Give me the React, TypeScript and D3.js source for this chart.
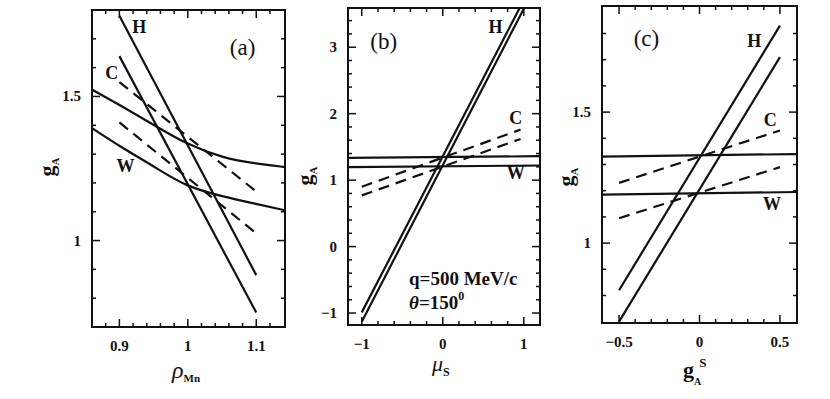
import React from 'react';
import * as d3 from 'd3';

const FONT = '"Liberation Serif", "DejaVu Serif", serif';

// ---- panel (a): g_A against rho_Mn ----
const rhoTicks = [0.9, 1, 1.1];
const rhoLabels = ['0.9', '1', '1.1'];
const gaTicksA = [1, 1.5];
const gaLabelsA = ['1', '1.5'];
const rhoStraight = [0.9, 1.1];
const gaHsolidA = [1.78, 0.88];
const gaCsolidA = [1.64, 0.75];
const gaDashUpA = [1.55, 1.17];
const gaDashLoA = [1.41, 1.025];
const rhoCurve = [0.857, 0.905, 0.955, 0.996, 1.051, 1.101, 1.142];
const gaCurveUpA = [1.528, 1.464, 1.395, 1.337, 1.286, 1.266, 1.255];
const gaCurveLoA = [1.395, 1.32, 1.251, 1.189, 1.152, 1.127, 1.105];

// ---- panel (b): g_A against mu_s ----
const muTicks = [-1, 0, 1];
const muLabels = ['\u22121', '0', '1'];
const gaTicksB = [-1, 0, 1, 2, 3];
const gaLabelsB = ['\u22121', '0', '1', '2', '3'];
const muH = [-1, 1];
const gaH1B = [-0.99, 3.71];
const gaH2B = [-1.13, 3.58];
const muFlat = [-1.17, 1.2];
const gaFlatUpB = [1.335, 1.36];
const gaFlatLoB = [1.195, 1.22];
const muDash = [-1, 0.96];
const gaDashUpB = [0.90, 1.76];
const gaDashLoB = [0.77, 1.62];

// ---- panel (c): g_A against g_A^s ----
const gsTicks = [-0.5, 0, 0.5];
const gsLabels = ['\u22120.5', '0', '0.5'];
const gaTicksC = [1, 1.5];
const gaLabelsC = ['1', '1.5'];
const gsLine = [-0.5, 0.5];
const gaH1C = [0.82, 1.83];
const gaH2C = [0.70, 1.71];
const gsFlat = [-0.61, 0.61];
const gaFlatUpC = [1.33, 1.34];
const gaFlatLoC = [1.185, 1.195];
const gaDashUpC = [1.23, 1.43];
const gaDashLoC = [1.095, 1.29];

type Series = { x: number[]; y: number[]; dashed?: boolean; curve?: boolean };
type Label = { text: string; x: number; y: number };

type PanelProps = {
  id: string;
  box: { left: number; right: number; top: number; bottom: number };
  xDomain: [number, number];
  yDomain: [number, number];
  xMajor: number[];
  xMajorLabels: string[];
  xMinor: number[];
  yMajor: number[];
  yMajorLabels: string[];
  yMinor: number[];
  series: Series[];
  letters: Label[]; // curve names, placed in data coords
  tag: Label; // (a), (b), (c)
};

const Panel = (p: PanelProps) => {
  const { left, right, top, bottom } = p.box;
  const x = d3.scaleLinear().domain(p.xDomain).range([left, right]);
  const y = d3.scaleLinear().domain(p.yDomain).range([bottom, top]);
  const major = 8;
  const minor = 4;
  const near = (v: number, a: number, b: number) => Math.abs(v - a) < 1.5 || Math.abs(v - b) < 1.5;

  const ticks: JSX.Element[] = [];
  p.xMinor.forEach((v, i) => {
    const px = x(v);
    if (near(px, left, right)) return;
    const len = p.xMajor.some(m => Math.abs(m - v) < 1e-6) ? major : minor;
    ticks.push(<line key={'xb' + i} x1={px} x2={px} y1={bottom} y2={bottom - len} />);
    ticks.push(<line key={'xt' + i} x1={px} x2={px} y1={top} y2={top + len} />);
  });
  p.yMinor.forEach((v, i) => {
    const py = y(v);
    if (near(py, top, bottom)) return;
    const len = p.yMajor.some(m => Math.abs(m - v) < 1e-6) ? major : minor;
    ticks.push(<line key={'yl' + i} x1={left} x2={left + len} y1={py} y2={py} />);
    ticks.push(<line key={'yr' + i} x1={right} x2={right - len} y1={py} y2={py} />);
  });

  const path = (s: Series) => {
    const pts = s.x.map((v, i) => [x(v), y(s.y[i])] as [number, number]);
    const gen = d3.line<[number, number]>().x(d => d[0]).y(d => d[1]);
    if (s.curve) gen.curve(d3.curveBasis);
    return gen(pts) || '';
  };

  return (
    <g>
      <defs>
        <clipPath id={'clip-' + p.id}>
          <rect x={left} y={top} width={right - left} height={bottom - top} />
        </clipPath>
      </defs>
      <g clipPath={`url(#clip-${p.id})`} fill="none" stroke="#111" strokeWidth={2.2}>
        {p.series.map((s, i) => (
          <path key={i} d={path(s)} strokeDasharray={s.dashed ? '11,7' : undefined} />
        ))}
      </g>
      <g stroke="#111" strokeWidth={1.5}>{ticks}</g>
      <rect x={left} y={top} width={right - left} height={bottom - top} fill="none" stroke="#111" strokeWidth={2} />
      <g fontFamily={FONT} fontWeight="bold" fontSize={15} fill="#111">
        {p.xMajor.map((v, i) => (
          <text key={'xl' + i} x={x(v)} y={bottom + 24} textAnchor="middle">{p.xMajorLabels[i]}</text>
        ))}
        {p.yMajor.map((v, i) => (
          <text key={'yl' + i} x={left - 11} y={y(v) + 5} textAnchor="end">{p.yMajorLabels[i]}</text>
        ))}
      </g>
      <g fontFamily={FONT} fontWeight="bold" fontSize={18} fill="#111">
        {p.letters.map((l, i) => (
          <text key={i} x={x(l.x)} y={y(l.y)} textAnchor="middle" dominantBaseline="central">{l.text}</text>
        ))}
      </g>
      <text x={x(p.tag.x)} y={y(p.tag.y)} fontFamily={FONT} fontSize={23} fill="#111" textAnchor="middle" dominantBaseline="central">{p.tag.text}</text>
    </g>
  );
};

const YTitle = ({ cx, cy }: { cx: number; cy: number }) => (
  <text transform={`translate(${cx},${cy}) rotate(-90)`} fontFamily={FONT} fontWeight="bold" fill="#111" textAnchor="middle">
    <tspan fontSize={22}>g</tspan>
    <tspan fontSize={11} dy={5}>A</tspan>
  </text>
);

const App = () => {
  return (
    <svg width={830} height={399} style={{ position: 'absolute', left: 0, top: 0, background: '#fff' }}>
      <Panel
        id="a"
        box={{ left: 92, right: 285, top: 10, bottom: 327 }}
        xDomain={[0.86, 1.142]}
        yDomain={[0.7, 1.8]}
        xMajor={rhoTicks}
        xMajorLabels={rhoLabels}
        xMinor={d3.range(43, 58).map(i => i / 50)}
        yMajor={gaTicksA}
        yMajorLabels={gaLabelsA}
        yMinor={d3.range(7, 19).map(i => i / 10)}
        series={[
          { x: rhoStraight, y: gaHsolidA },
          { x: rhoStraight, y: gaCsolidA },
          { x: rhoStraight, y: gaDashUpA, dashed: true },
          { x: rhoStraight, y: gaDashLoA, dashed: true },
          { x: rhoCurve, y: gaCurveUpA, curve: true },
          { x: rhoCurve, y: gaCurveLoA, curve: true },
        ]}
        letters={[
          { text: 'H', x: 0.929, y: 1.74 },
          { text: 'C', x: 0.889, y: 1.58 },
          { text: 'W', x: 0.909, y: 1.26 },
        ]}
        tag={{ text: '(a)', x: 1.08, y: 1.67 }}
      />
      <Panel
        id="b"
        box={{ left: 348, right: 540, top: 8, bottom: 325 }}
        xDomain={[-1.17, 1.2]}
        yDomain={[-1.18, 3.59]}
        xMajor={muTicks}
        xMajorLabels={muLabels}
        xMinor={d3.range(-5, 7).map(i => i / 5)}
        yMajor={gaTicksB}
        yMajorLabels={gaLabelsB}
        yMinor={d3.range(-5, 18).map(i => i / 5)}
        series={[
          { x: muH, y: gaH1B },
          { x: muH, y: gaH2B },
          { x: muFlat, y: gaFlatUpB },
          { x: muFlat, y: gaFlatLoB },
          { x: muDash, y: gaDashUpB, dashed: true },
          { x: muDash, y: gaDashLoB, dashed: true },
        ]}
        letters={[
          { text: 'H', x: 0.65, y: 3.3 },
          { text: 'C', x: 0.9, y: 1.93 },
          { text: 'W', x: 0.9, y: 1.1 },
        ]}
        tag={{ text: '(b)', x: -0.73, y: 3.08 }}
      />
      <text fontFamily={FONT} fontWeight="bold" fontSize={19} fill="#111" x={409} y={285}>q=500 MeV/c</text>
      <text fontFamily={FONT} fontWeight="bold" fontSize={19} fill="#111" x={409} y={309}>
        <tspan fontStyle="italic">θ</tspan>=150<tspan fontSize={12} dy={-9}>0</tspan>
      </text>
      <Panel
        id="c"
        box={{ left: 602, right: 797, top: 6, bottom: 323 }}
        xDomain={[-0.606, 0.606]}
        yDomain={[0.695, 1.905]}
        xMajor={gsTicks}
        xMajorLabels={gsLabels}
        xMinor={d3.range(-6, 7).map(i => i / 10)}
        yMajor={gaTicksC}
        yMajorLabels={gaLabelsC}
        yMinor={d3.range(7, 20).map(i => i / 10)}
        series={[
          { x: gsLine, y: gaH1C },
          { x: gsLine, y: gaH2C },
          { x: gsFlat, y: gaFlatUpC },
          { x: gsFlat, y: gaFlatLoC },
          { x: gsLine, y: gaDashUpC, dashed: true },
          { x: gsLine, y: gaDashLoC, dashed: true },
        ]}
        letters={[
          { text: 'H', x: 0.34, y: 1.77 },
          { text: 'C', x: 0.44, y: 1.47 },
          { text: 'W', x: 0.45, y: 1.15 },
        ]}
        tag={{ text: '(c)', x: -0.33, y: 1.78 }}
      />
      <YTitle cx={54} cy={167} />
      <YTitle cx={312} cy={176} />
      <YTitle cx={573} cy={177} />
      {/* x-axis titles */}
      <text x={172} y={378} fontFamily={FONT} fill="#111">
        <tspan fontSize={24} fontStyle="italic">ρ</tspan>
        <tspan fontSize={11} fontWeight="bold" dy={4}>Mn</tspan>
      </text>
      <text x={432} y={371} fontFamily={FONT} fill="#111">
        <tspan fontSize={22} fontStyle="italic">μ</tspan>
        <tspan fontSize={12} fontWeight="bold" dy={5}>S</tspan>
      </text>
      <text x={683} y={377} fontFamily={FONT} fontWeight="bold" fill="#111">
        <tspan fontSize={22}>g</tspan>
        <tspan fontSize={10} dy={8}>A</tspan>
        <tspan fontSize={13} dx={-2} dy={-18}>S</tspan>
      </text>
    </svg>
  );
};

export default App;
